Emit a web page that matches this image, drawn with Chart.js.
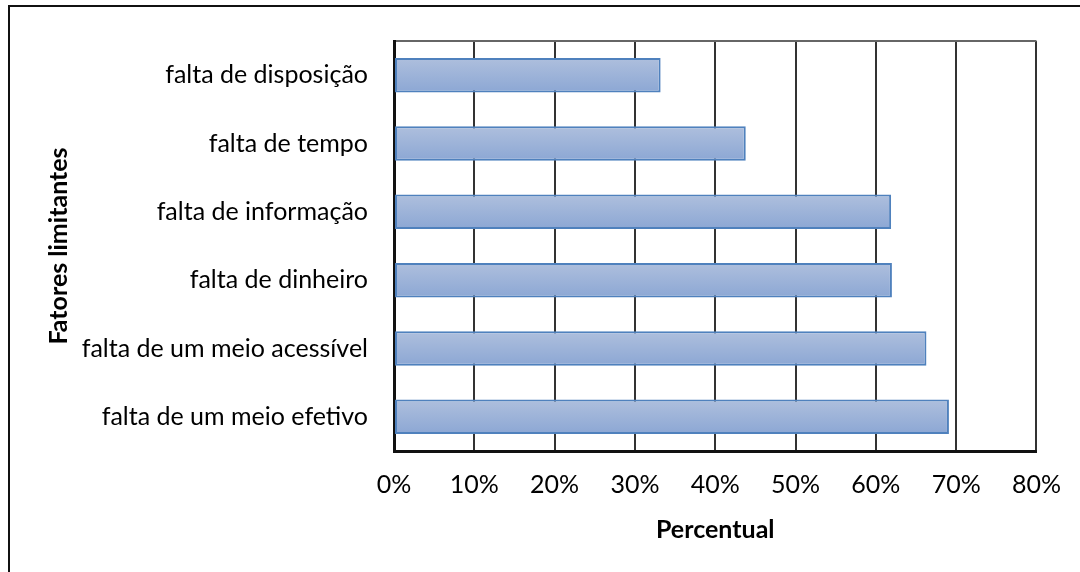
<!DOCTYPE html>
<html>
<head>
<meta charset="utf-8">
<script src="https://cdn.jsdelivr.net/npm/chart.js@4/dist/chart.umd.min.js"></script>
<style>
  html, body { margin: 0; padding: 0; background: #fff; overflow: hidden; }
  #wrap { position: relative; width: 1080px; height: 572px; }
  #frame { position: absolute; left: 8px; top: 5px; width: 1200px; height: 700px;
           border: 2px solid #111; box-sizing: border-box; pointer-events: none; }
  canvas { position: absolute; left: 0; top: 0; }
</style>
</head>
<body>
<div id="wrap">
  <div id="frame"></div>
  <canvas id="chart" width="1080" height="572"></canvas>
</div>
<script>
// categories, top to bottom
var categories = [
    'falta de disposição',
    'falta de tempo',
    'falta de informação',
    'falta de dinheiro',
    'falta de um meio acessível',
    'falta de um meio efetivo'
];
// percent of respondents
var values = [33.2, 43.8, 61.9, 62.0, 66.3, 69.1];
var xTicks = [0, 10, 20, 30, 40, 50, 60, 70, 80];

var barShare = 0.505;
var labelFont = { family: 'Lato', size: 25 };
var titleFont = { family: 'Lato', size: 25, weight: 'bold' };

function barGradient(c) {
    var chart = c.chart;
    var y = chart.scales.y;
    if (!y || c.dataIndex === undefined || !y.height) return '#9db3da';
    var mid = y.getPixelForValue(c.dataIndex);
    var half = y.height / categories.length * barShare / 2;
    var g = chart.ctx.createLinearGradient(0, mid - half, 0, mid + half);
    g.addColorStop(0, '#aebfdd');
    g.addColorStop(1, '#8ca7d4');
    return g;
}

var ctx = document.getElementById('chart').getContext('2d');
var chart = new Chart(ctx, {
    type: 'bar',
    data: {
        labels: categories,
        datasets: [{
            data: values,
            backgroundColor: barGradient,
            borderColor: '#4f81bd',
            borderWidth: 2,
            borderSkipped: false,
            categoryPercentage: 1,
            barPercentage: barShare
        }]
    },
    options: {
        indexAxis: 'y',
        responsive: false,
        animation: false,
        layout: { padding: { left: 0, top: 35, right: 43, bottom: 0 } },
        plugins: { legend: { display: false }, tooltip: { enabled: false } },
        scales: {
            x: {
                min: 0,
                max: 80,
                afterBuildTicks: function (s) { s.ticks = xTicks.map(function (v) { return { value: v }; }); },
                afterFit: function (s) { s.height = 572 - 451; },
                grid: { color: '#333', lineWidth: 2, drawTicks: false },
                border: { color: '#111', width: 3 },
                ticks: {
                    color: '#000',
                    font: labelFont,
                    padding: 19,
                    maxRotation: 0,
                    callback: function (v) { return v + '%'; }
                },
                title: {
                    display: true,
                    text: 'Percentual',
                    color: '#000',
                    font: titleFont,
                    padding: { top: 0, bottom: 27 }
                }
            },
            y: {
                afterFit: function (s) { s.width = 394; },
                grid: {
                    drawTicks: false,
                    lineWidth: 2,
                    color: function (c) { return c.index === 0 ? '#666' : 'rgba(0,0,0,0)'; }
                },
                border: { color: '#111', width: 3 },
                ticks: { color: '#000', font: labelFont, padding: 26 },
                title: {
                    display: true,
                    text: 'Fatores limitantes',
                    color: '#000',
                    font: titleFont,
                    padding: { top: 44, bottom: 0 }
                }
            }
        }
    }
});
</script>
</body>
</html>
